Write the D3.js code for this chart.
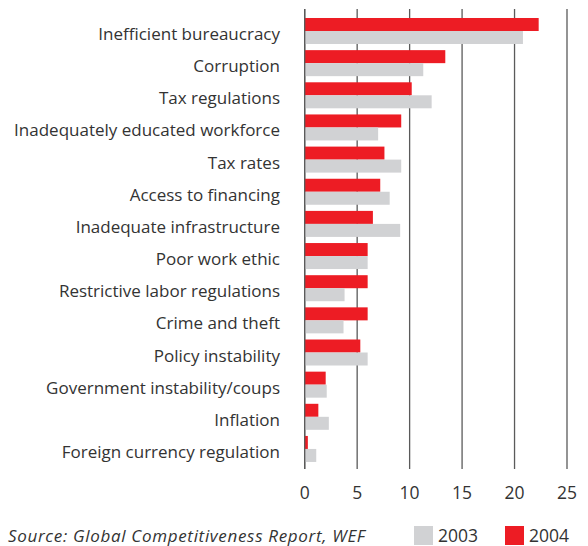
<!DOCTYPE html>
<html>
<head>
<meta charset="utf-8">
<script src="https://cdn.jsdelivr.net/npm/d3@7"></script>
<style>
  html, body { margin: 0; padding: 0; background: #fff; }
  svg { display: block; }
  text { font-family: "Open Sans", "Noto Sans", sans-serif; fill: #333333; }
</style>
</head>
<body>
<svg id="chart" width="588" height="546"></svg>
<script>
// Most problematic factors for doing business (% of responses)
const categories = [
  "Inefficient bureaucracy",
  "Corruption",
  "Tax regulations",
  "Inadequately educated workforce",
  "Tax rates",
  "Access to financing",
  "Inadequate infrastructure",
  "Poor work ethic",
  "Restrictive labor regulations",
  "Crime and theft",
  "Policy instability",
  "Government instability/coups",
  "Inflation",
  "Foreign currency regulation"
];
const values2004 = [22.3, 13.4, 10.2, 9.2, 7.6, 7.2, 6.5, 6.0, 6.0, 6.0, 5.3, 2.0, 1.3, 0.3];
const values2003 = [20.8, 11.3, 12.1, 7.0, 9.2, 8.1, 9.1, 6.0, 3.8, 3.7, 6.0, 2.1, 2.3, 1.1];
const seriesNames = ["2004", "2003"];
const xTicks = [0, 5, 10, 15, 20, 25];
const sourceText = "Source: Global Competitiveness Report, WEF";

const colors = { "2004": "#ed1c24", "2003": "#d1d2d4" };

const svg = d3.select("#chart");
const plotLeft = 304.7, plotRight = 567;
const gridTop = 9, gridBottom = 469;

const x = d3.scaleLinear().domain([0, 25]).range([plotLeft, plotRight]);
const y = d3.scaleBand().domain(categories).range([9.96, 470]).paddingInner(0.191).paddingOuter(0.25);
const ySeries = d3.scaleBand().domain(seriesNames).range([0, y.bandwidth()]);

// vertical gridlines (extend below the plot as tick marks)
svg.append("g")
  .selectAll("line")
  .data(xTicks)
  .join("line")
  .attr("x1", d => x(d)).attr("x2", d => x(d))
  .attr("y1", gridTop).attr("y2", gridBottom)
  .attr("stroke", "#5a5a5a")
  .attr("stroke-width", 1.3);

// bars
const rows = svg.append("g")
  .selectAll("g")
  .data(categories.map((c, i) => ({ c, v: { "2004": values2004[i], "2003": values2003[i] } })))
  .join("g")
  .attr("transform", d => `translate(0,${y(d.c)})`);

rows.selectAll("rect")
  .data(d => seriesNames.map(s => ({ s, v: d.v[s] })))
  .join("rect")
  .attr("x", x(0))
  .attr("y", d => ySeries(d.s))
  .attr("width", d => x(d.v) - x(0))
  .attr("height", ySeries.bandwidth())
  .attr("fill", d => colors[d.s]);

// zero line on top of the bars
svg.append("line")
  .attr("x1", x(0)).attr("x2", x(0))
  .attr("y1", gridTop).attr("y2", gridBottom)
  .attr("stroke", "#5a5a5a")
  .attr("stroke-width", 1.3);

// category labels
svg.append("g")
  .selectAll("text")
  .data(categories)
  .join("text")
  .attr("x", 280)
  .attr("y", d => y(d) + y.bandwidth() / 2 + 9)
  .attr("text-anchor", "end")
  .attr("font-size", 17)
  .text(d => d);

// x axis tick labels
svg.append("g")
  .selectAll("text")
  .data(xTicks)
  .join("text")
  .attr("x", d => x(d))
  .attr("y", 499)
  .attr("text-anchor", "middle")
  .attr("font-size", 17.5)
  .text(d => d);

// source note
svg.append("text")
  .attr("x", 8)
  .attr("y", 542)
  .attr("font-size", 17)
  .attr("font-style", "italic")
  .attr("textLength", 357)
  .attr("lengthAdjust", "spacing")
  .text(sourceText);

// legend
const legendItems = [
  { s: "2003", x: 414 },
  { s: "2004", x: 505 }
];
const lg = svg.append("g")
  .selectAll("g")
  .data(legendItems)
  .join("g")
  .attr("transform", d => `translate(${d.x},526)`);
lg.append("rect")
  .attr("width", 19).attr("height", 19)
  .attr("fill", d => colors[d.s]);
lg.append("text")
  .attr("x", 24).attr("y", 16)
  .attr("font-size", 17.5)
  .text(d => d.s);
</script>
</body>
</html>
